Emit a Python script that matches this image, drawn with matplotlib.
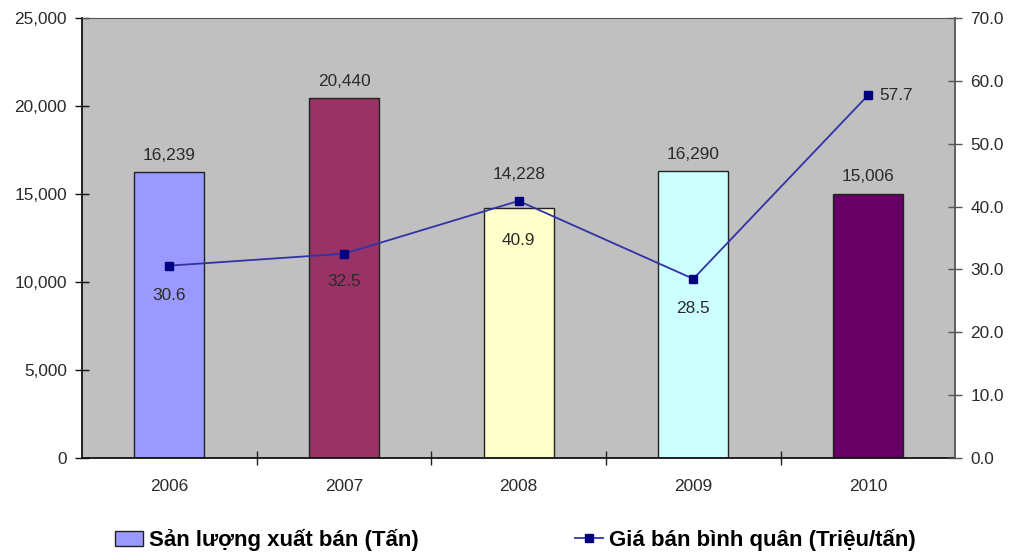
import matplotlib.pyplot as plt
from matplotlib.lines import Line2D
from matplotlib.patches import Patch
from matplotlib.ticker import FuncFormatter, MultipleLocator

years = ["2006", "2007", "2008", "2009", "2010"]
volume = [16239, 20440, 14228, 16290, 15006]
price = [30.6, 32.5, 40.9, 28.5, 57.7]
bar_colors = ["#9999FF", "#993366", "#FFFFCC", "#CCFFFF", "#660066"]
volume_label = "Sản lượng xuất bán (Tấn)"
price_label = "Giá bán bình quân (Triệu/tấn)"

plt.rcParams["font.family"] = ["Liberation Sans", "DejaVu Sans"]

LINE_COLOR = "#3232A6"
MARKER_COLOR = "#000080"
TEXT_COLOR = "#2a2a2a"
FS = 12.4

fig = plt.figure(figsize=(10.13, 5.54), dpi=100)
ax = fig.add_axes([0.081, 0.1733, 0.862, 0.7942])
ax.set_facecolor("#C0C0C0")

x = list(range(len(years)))
ax.bar(x, volume, width=0.4, color=bar_colors, edgecolor="#222222", linewidth=1.0, zorder=2)
# value labels above the bars (the 2008 one is lifted clear of the line marker)
bar_offsets = [17, 17, 33, 17, 17]
for xi, v, off in zip(x, volume, bar_offsets):
    ax.annotate(f"{v:,}", (xi, v), xytext=(0, off), textcoords="offset pixels",
                ha="center", va="center", fontsize=FS, color=TEXT_COLOR)

ax.set_xlim(-0.5, len(years) - 0.5)
ax.set_ylim(0, 25000)
ax.yaxis.set_major_locator(MultipleLocator(5000))
ax.yaxis.set_major_formatter(FuncFormatter(lambda v, p: f"{int(v):,}"))
ax.set_xticks([i + 0.5 for i in range(len(years) - 1)], minor=False)
ax.set_xticklabels([])
ax.set_xticks(x, minor=True)
ax.set_xticklabels(years, minor=True)
ax.tick_params(axis="x", which="major", direction="inout", length=10, width=1, color="#222222")
ax.tick_params(axis="x", which="minor", length=0, pad=15, labelsize=FS, labelcolor=TEXT_COLOR)
ax.tick_params(axis="y", direction="inout", length=10, width=1, color="#111111", labelsize=FS,
               labelcolor=TEXT_COLOR, pad=6)
for side in ("left", "bottom"):
    ax.spines[side].set_color("#111111")
    ax.spines[side].set_linewidth(1.3)
ax.spines["top"].set_color("#555555")
ax.spines["top"].set_linewidth(0.8)
ax.spines["right"].set_visible(False)

ax2 = ax.twinx()
ax2.set_ylim(0, 70)
ax2.yaxis.set_major_locator(MultipleLocator(10))
ax2.yaxis.set_major_formatter(FuncFormatter(lambda v, p: f"{v:.1f}"))
ax2.plot(x, price, color=LINE_COLOR, linewidth=1.3, marker="s", markersize=5.5,
         markerfacecolor=MARKER_COLOR, markeredgecolor=MARKER_COLOR, zorder=3)
price_offsets = [(0, -30), (0, -28), (0, -40), (0, -30), (28, 0)]
for xi, p, off in zip(x, price, price_offsets):
    ax2.annotate(f"{p:.1f}", (xi, p), xytext=off, textcoords="offset pixels",
                 ha="center", va="center", fontsize=FS, color=TEXT_COLOR)
ax2.tick_params(axis="y", direction="inout", length=10, width=1, color="#555555", labelsize=FS,
                labelcolor=TEXT_COLOR, pad=6)
ax2.spines["right"].set_color("#555555")
ax2.spines["right"].set_linewidth(1.3)
for side in ("left", "bottom", "top"):
    ax2.spines[side].set_visible(False)

LEG_FS = 16
h1 = Patch(facecolor=bar_colors[0], edgecolor="#222222", linewidth=1.0)
h2 = Line2D([], [], color=LINE_COLOR, linewidth=1.3, marker="s", markersize=5.5,
            markerfacecolor=MARKER_COLOR, markeredgecolor=MARKER_COLOR)
common = dict(loc="center left", frameon=False, borderpad=0, borderaxespad=0,
              prop={"weight": "bold", "size": LEG_FS}, handlelength=1.28, handletextpad=0.23)
fig.legend([h1], [volume_label], bbox_to_anchor=(115 / 1013, 0.025), handleheight=0.68, **common)
fig.legend([h2], [price_label], bbox_to_anchor=(575 / 1013, 0.025), **common)

fig.savefig("out.png", dpi=100)
